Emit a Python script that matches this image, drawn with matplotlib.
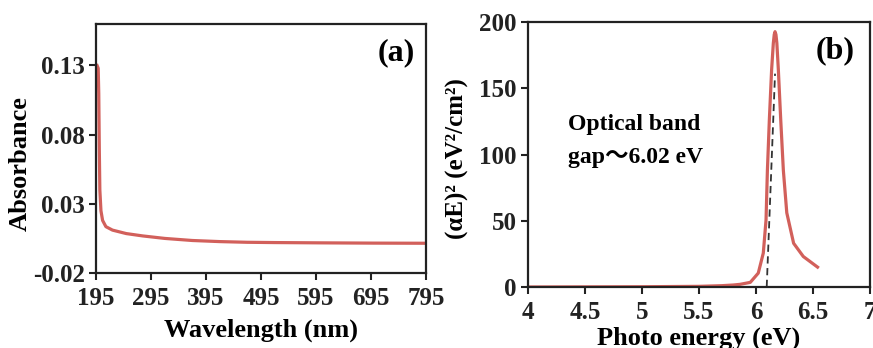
import numpy as np
import matplotlib
matplotlib.use("Agg")
import matplotlib.pyplot as plt

plt.rcParams['font.family'] = ['Liberation Serif', 'Noto Sans CJK SC', 'DejaVu Sans']
plt.rcParams['font.weight'] = 'bold'

# Panel (a) data
wavelength = [197, 199, 200, 201, 202, 204, 207, 213, 225, 250, 280, 320, 370, 420, 470, 520, 600, 700, 795]
absorbance = [0.13, 0.128, 0.11, 0.07, 0.04, 0.025, 0.018, 0.0135, 0.011, 0.0085, 0.0068, 0.005, 0.0035, 0.0027, 0.0022, 0.002, 0.0018, 0.0016, 0.0015]
a_xticks = [195, 295, 395, 495, 595, 695, 795]
a_yticks = [-0.02, 0.03, 0.08, 0.13]
a_yticklabels = ['-0.02', '0.03', '0.08', '0.13']

# Panel (b) data
energy = [4.0, 4.5, 5.0, 5.5, 5.7, 5.8, 5.86, 5.95, 6.02, 6.064, 6.088, 6.10, 6.117, 6.137, 6.152, 6.16, 6.167,
          6.175, 6.183, 6.196, 6.217, 6.24, 6.27, 6.33, 6.415, 6.54]
alphaE2 = [0.0, 0.1, 0.2, 0.5, 1.0, 1.5, 2.0, 3.5, 10.5, 25.6, 50.6, 88, 126, 164, 184, 190.5, 192.7,
           190.5, 184, 164, 126, 88, 56, 33, 23, 15]
b_xticks = [4, 4.5, 5, 5.5, 6, 6.5, 7]
b_xticklabels = ['4', '4.5', '5', '5.5', '6', '6.5', '7']
b_yticks = [0, 50, 100, 150, 200]
tangent_x = [6.094, 6.167]
tangent_y = [0, 161]

red = '#d2605b'
W, H = 873, 348
fig = plt.figure(figsize=(W / 100, H / 100), dpi=100)

def style(ax):
    for s in ax.spines.values():
        s.set_linewidth(1.6)
        s.set_color('#222222')
    ax.tick_params(direction='out', length=5, width=1.5, labelsize=18, pad=3, colors='#222222')
    ax.tick_params(top=False, right=False)
    ax.tick_params(axis='x', pad=5)

# panel (a)
axa = fig.add_axes([96 / W, 1 - 273 / H, (426 - 96) / W, (273 - 24) / H])
axa.plot(wavelength, absorbance, color=red, lw=2.3)
axa.set_xlim(195, 795)
axa.set_ylim(-0.02, 0.160)
axa.set_xticks(a_xticks)
axa.set_yticks(a_yticks)
axa.set_yticklabels(a_yticklabels)
style(axa)
axa.set_xlabel('Wavelength (nm)', fontsize=19, fontweight='bold')
axa.xaxis.set_label_coords(0.5, -0.185)
axa.set_ylabel('Absorbance', fontsize=19, fontweight='bold')
axa.yaxis.set_label_coords(-0.194, 0.44)
axa.text(0.965, 0.885, '(a)', transform=axa.transAxes, ha='right', va='center', fontsize=23, fontweight='bold')

# panel (b)
axb = fig.add_axes([528 / W, 1 - 287 / H, (870 - 528) / W, (287 - 22) / H])
axb.plot(energy, alphaE2, color=red, lw=2.3)
axb.plot(tangent_x, tangent_y, color='#333333', lw=1.3, ls=(0, (4, 2.5)))
axb.set_xlim(4, 7)
axb.set_ylim(0, 200)
axb.set_xticks(b_xticks)
axb.set_xticklabels(b_xticklabels)
axb.set_yticks(b_yticks)
style(axb)
axb.set_xlabel('Photo energy (eV)', fontsize=19, fontweight='bold')
axb.xaxis.set_label_coords(0.5, -0.151)
axb.set_ylabel('(αE)² (eV²/cm²)', fontsize=18, fontweight='bold')
axb.yaxis.set_label_coords(-0.173, 0.483)
axb.text(0.955, 0.89, '(b)', transform=axb.transAxes, ha='right', va='center', fontsize=23, fontweight='bold')
axb.text(4.35, 118.5, 'Optical band', fontsize=17, fontweight='bold', va='baseline')
axb.text(4.35, 93.5, 'gap～6.02 eV', fontsize=17, fontweight='bold', va='baseline')

fig.savefig('out.png', dpi=100)
